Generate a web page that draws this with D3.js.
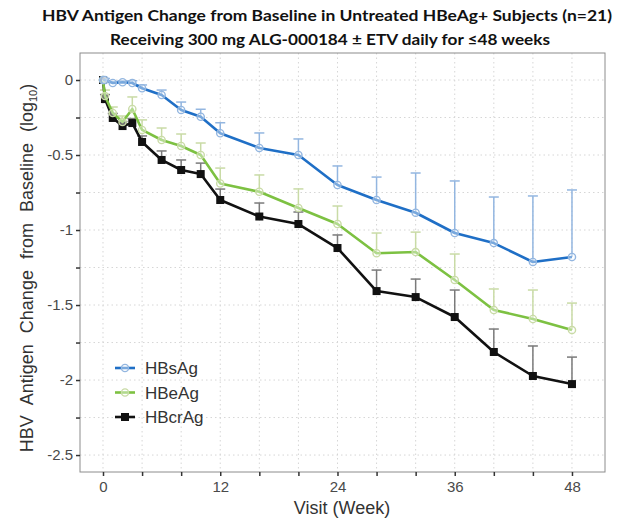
<!DOCTYPE html>
<html>
<head>
<meta charset="utf-8">
<script src="https://cdn.jsdelivr.net/npm/d3@7"></script>
<style>
  body { margin: 0; background: #fff; }
  svg { display: block; }
</style>
</head>
<body>
<div id="chart"></div>
<script>
// Visit weeks (second point is the early on-treatment visit just after baseline)
var weeks = [0, 0.2, 1, 2, 3, 4, 6, 8, 10, 12, 16, 20, 24, 28, 32, 36, 40, 44, 48];

// Mean change from baseline (log10)
var hbsag  = [0, 0, -0.02, -0.015, -0.02, -0.055, -0.1, -0.2, -0.245, -0.355, -0.453, -0.5, -0.7, -0.8, -0.885, -1.02, -1.087, -1.213, -1.18];
var hbeag  = [0, -0.107, -0.22, -0.28, -0.193, -0.333, -0.4, -0.44, -0.5, -0.69, -0.745, -0.853, -0.96, -1.155, -1.147, -1.333, -1.533, -1.593, -1.667];
var hbcrag = [0, -0.127, -0.253, -0.307, -0.287, -0.413, -0.533, -0.6, -0.627, -0.8, -0.91, -0.96, -1.12, -1.407, -1.447, -1.58, -1.813, -1.973, -2.027];

// Upper error bar lengths
var hbsagErr  = [0, 0.01, 0.01, 0.01, 0.015, 0.022, 0.033, 0.053, 0.05, 0.07, 0.1, 0.107, 0.127, 0.153, 0.265, 0.347, 0.307, 0.44, 0.447];
var hbeagErr  = [0, 0.04, 0.04, 0.04, 0.08, 0.067, 0.08, 0.08, 0.08, 0.103, 0.112, 0.127, 0.12, 0.135, 0.133, 0.173, 0.14, 0.193, 0.18];
var hbcragErr = [0, 0.03, 0.03, 0.03, 0.03, 0.04, 0.06, 0.067, 0.073, 0.073, 0.09, 0.08, 0.087, 0.14, 0.12, 0.18, 0.153, 0.2, 0.18];

var seriesNames = ['HBsAg', 'HBeAg', 'HBcrAg'];
var xTicks = [0, 12, 24, 36, 48];
var yTicks = [0, -0.5, -1, -1.5, -2, -2.5];

var width = 618, height = 520;
var panel = { left: 80, right: 605, top: 53, bottom: 472 };

var svg = d3.select('#chart').append('svg')
  .attr('width', width)
  .attr('height', height);

var x = d3.scaleLinear().domain([-2.354, 51.38]).range([panel.left, panel.right]);
var y = d3.scaleLinear().domain([0.18, -2.613]).range([panel.top, panel.bottom]);

// Grid, dotted.
var grid = svg.append('g');
grid.selectAll('line.gx')
  .data(d3.range(0, 49, 4))
  .enter().append('line')
  .attr('x1', d => x(d)).attr('x2', d => x(d))
  .attr('y1', panel.top).attr('y2', panel.bottom)
  .attr('stroke', '#d6d6d6').attr('stroke-width', 1)
  .attr('stroke-dasharray', '1.5,3');
grid.selectAll('line.gy')
  .data(d3.range(0, -2.51, -0.25))
  .enter().append('line')
  .attr('y1', d => y(d)).attr('y2', d => y(d))
  .attr('x1', panel.left).attr('x2', panel.right)
  .attr('stroke', '#d6d6d6').attr('stroke-width', 1)
  .attr('stroke-dasharray', '1.5,3');

// Panel border.
svg.append('rect')
  .attr('x', panel.left).attr('y', panel.top)
  .attr('width', panel.right - panel.left)
  .attr('height', panel.bottom - panel.top)
  .attr('fill', 'none').attr('stroke', '#8c8c8c').attr('stroke-width', 1);

// Axes.
var xAxis = d3.axisBottom(x)
  .tickValues(d3.range(0, 49, 4))
  .tickSize(4).tickPadding(5)
  .tickFormat(d => xTicks.indexOf(d) >= 0 ? d : '');
var gx = svg.append('g').attr('transform', 'translate(0,' + panel.bottom + ')').call(xAxis);

var yAxis = d3.axisLeft(y)
  .tickValues(d3.range(0, -2.51, -0.25))
  .tickSize(4).tickPadding(3)
  .tickFormat(d => yTicks.indexOf(Math.round(d * 100) / 100) >= 0 ? d3.format('')(Math.round(d * 10) / 10).replace('−', '-') : '');
var gy = svg.append('g').attr('transform', 'translate(' + panel.left + ',0)').call(yAxis);

[gx, gy].forEach(function(g) {
  g.select('.domain').remove();
  g.selectAll('.tick line').attr('stroke', '#333').attr('stroke-width', 1.5);
  g.selectAll('.tick text')
    .attr('fill', '#4a4a4a')
    .style('font-family', '"Liberation Sans", Arial, sans-serif')
    .style('font-size', '15px');
});

// Series setup.
var series = [
  { name: seriesNames[0], vals: hbsag,  err: hbsagErr,  line: '#1f6fc6', bar: '#93b6e0', shape: 'circle' },
  { name: seriesNames[1], vals: hbeag,  err: hbeagErr,  line: '#7dc142', bar: '#c9dba6', shape: 'circle' },
  { name: seriesNames[2], vals: hbcrag, err: hbcragErr, line: '#111111', bar: '#7a7a7a', shape: 'square' }
];

var line = d3.line().x(d => x(d.w)).y(d => y(d.v));

// Error bars (upper only, capped) first.
series.forEach(function(s) {
  var pts = weeks.map((w, i) => ({ w: w, v: s.vals[i], e: s.err[i] })).filter(p => p.e > 0);
  var g = svg.append('g');
  g.selectAll('line.v').data(pts).enter().append('line')
    .attr('x1', d => x(d.w)).attr('x2', d => x(d.w))
    .attr('y1', d => y(d.v)).attr('y2', d => y(d.v + d.e))
    .attr('stroke', s.bar).attr('stroke-width', 1.5);
  g.selectAll('line.c').data(pts).enter().append('line')
    .attr('x1', d => x(d.w) - 5).attr('x2', d => x(d.w) + 5)
    .attr('y1', d => y(d.v + d.e)).attr('y2', d => y(d.v + d.e))
    .attr('stroke', s.bar).attr('stroke-width', 1.5);
});

// Lines and markers; black on top.
series.slice().reverse().forEach(function(s) {
  var pts = weeks.map((w, i) => ({ w: w, v: s.vals[i] }));
  var g = svg.append('g');
  g.append('path').datum(pts)
    .attr('d', line)
    .attr('fill', 'none').attr('stroke', s.line).attr('stroke-width', 2.6)
    .attr('stroke-linejoin', 'round');
  if (s.shape === 'square') {
    g.selectAll('rect').data(pts).enter().append('rect')
      .attr('x', d => x(d.w) - 4).attr('y', d => y(d.v) - 4)
      .attr('width', 8).attr('height', 8)
      .attr('fill', s.line);
  } else {
    g.selectAll('circle').data(pts).enter().append('circle')
      .attr('cx', d => x(d.w)).attr('cy', d => y(d.v)).attr('r', 3.6)
      .attr('fill', '#fff').attr('fill-opacity', 0.4)
      .attr('stroke', s.bar).attr('stroke-width', 1.4);
  }
});

// Legend.
var legend = svg.append('g').attr('transform', 'translate(115,368)');
series.forEach(function(s, i) {
  var g = legend.append('g').attr('transform', 'translate(0,' + (i * 24.5) + ')');
  g.append('line').attr('x1', 0).attr('x2', 20).attr('y1', 0).attr('y2', 0)
    .attr('stroke', s.line).attr('stroke-width', 2.6);
  if (s.shape === 'square') {
    g.append('rect').attr('x', 6).attr('y', -4).attr('width', 8).attr('height', 8).attr('fill', s.line);
  } else {
    g.append('circle').attr('cx', 10).attr('cy', 0).attr('r', 3.6)
      .attr('fill', '#fff').attr('fill-opacity', 0.4).attr('stroke', s.bar).attr('stroke-width', 1.4);
  }
  g.append('text').attr('x', 30).attr('y', 6)
    .style('font-family', '"Liberation Sans", Arial, sans-serif')
    .style('font-size', '17px').attr('fill', '#333')
    .text(s.name);
});

// Axis titles.
svg.append('text')
  .attr('x', 342).attr('y', 514)
  .attr('text-anchor', 'middle')
  .style('font-family', '"Liberation Sans", Arial, sans-serif')
  .style('font-size', '18px').attr('fill', '#333')
  .text('Visit (Week)');

var yt = svg.append('text')
  .attr('transform', 'translate(33,268) rotate(-90)')
  .attr('text-anchor', 'middle')
  .style('font-family', '"Liberation Sans", Arial, sans-serif')
  .style('font-size', '18px').style('word-spacing', '6px').attr('fill', '#333');
yt.append('tspan').text('HBV Antigen Change from Baseline (log');
yt.append('tspan').attr('dy', 4).style('font-size', '11px').text('10');
yt.append('tspan').attr('dy', -4).text(')');

// Title.
var title = svg.append('g')
  .style('font-family', 'Lato, "Open Sans", sans-serif')
  .style('font-weight', 'bold').style('font-size', '16px').attr('fill', '#111');
title.append('text').attr('x', 327).attr('y', 21).attr('text-anchor', 'middle')
  .attr('textLength', 570).attr('lengthAdjust', 'spacingAndGlyphs')
  .text('HBV Antigen Change from Baseline in Untreated HBeAg+ Subjects (n=21)');
title.append('text').attr('x', 330).attr('y', 45).attr('text-anchor', 'middle')
  .attr('textLength', 440).attr('lengthAdjust', 'spacingAndGlyphs')
  .text('Receiving 300 mg ALG-000184 ± ETV daily for ≤48 weeks');
</script>
</body>
</html>
